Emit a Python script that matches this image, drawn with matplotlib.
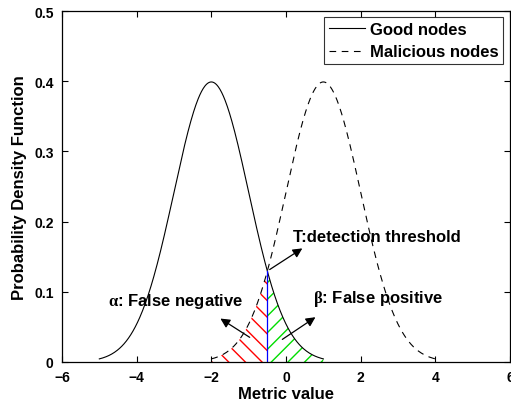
import numpy as np
import matplotlib.pyplot as plt

plt.rcParams['font.family'] = ['Liberation Sans', 'DejaVu Sans']
plt.rcParams['font.weight'] = 'bold'
plt.rcParams['mathtext.fontset'] = 'custom'
plt.rcParams['mathtext.rm'] = 'Liberation Serif'
plt.rcParams['mathtext.it'] = 'Liberation Serif'
plt.rcParams['hatch.linewidth'] = 1.0

# distribution parameters
mu_good, mu_bad, sigma = -2.0, 1.0, 1.0
good_range = [-5.0, 1.0]
bad_range = [-2.0, 4.0]
threshold = -0.5

xticks = [-6, -4, -2, 0, 2, 4, 6]
yticks = [0, 0.1, 0.2, 0.3, 0.4, 0.5]


def pdf(x, mu, s):
    return np.exp(-0.5 * ((x - mu) / s) ** 2) / (s * np.sqrt(2 * np.pi))


xg = np.linspace(good_range[0], good_range[1], 400)
xb = np.linspace(bad_range[0], bad_range[1], 400)

fig = plt.figure(figsize=(5.11, 4.10), dpi=100)
ax = fig.add_axes([62 / 511, 47 / 410, 448 / 511, 351 / 410])

ax.plot(xg, pdf(xg, mu_good, sigma), 'k-', lw=0.8, label='Good nodes')
ax.plot(xb, pdf(xb, mu_bad, sigma), 'k--', lw=0.8, dashes=(6, 5), label='Malicious nodes')

# false negative: malicious below threshold
xr = np.linspace(bad_range[0], threshold, 200)
ax.fill_between(xr, 0, pdf(xr, mu_bad, sigma), facecolor='none', edgecolor='red',
                hatch='\\\\', linewidth=0)
# false positive: good above threshold
xgr = np.linspace(threshold, good_range[1], 200)
ax.fill_between(xgr, 0, pdf(xgr, mu_good, sigma), facecolor='none', edgecolor='#00dd00',
                hatch='//', linewidth=0)

t_y = pdf(threshold, mu_good, sigma)
ax.plot([threshold, threshold], [0, t_y], color='blue', lw=0.9)

arrow = dict(arrowstyle='-|>', color='black', lw=0.9, mutation_scale=14)
ax.annotate('', xy=(0.5, 0.164), xytext=(threshold, t_y), arrowprops=arrow)
ax.text(0.18, 0.179, 'T:detection threshold', fontsize=12, fontweight='bold', va='center')

ax.annotate('', xy=(-1.82, 0.064), xytext=(-0.91, 0.033), arrowprops=arrow)
ax.text(-4.77, 0.087, r'$\mathrm{\alpha}$: False negative', fontsize=12, fontweight='bold',
        va='center')

ax.annotate('', xy=(0.85, 0.066), xytext=(-0.16, 0.030), arrowprops=arrow)
ax.text(0.72, 0.091, r'$\mathrm{\beta}$: False positive', fontsize=12, fontweight='bold',
        va='center')

ax.set_xlim(-6, 6)
ax.set_ylim(0, 0.5)
ax.set_xticks(xticks)
ax.set_yticks(yticks)
ax.set_xticklabels(['\u22126', '\u22124', '\u22122', '0', '2', '4', '6'])
ax.set_yticklabels(['0', '0.1', '0.2', '0.3', '0.4', '0.5'])
ax.tick_params(direction='in', top=True, right=True, labelsize=10, length=4, width=0.8)
ax.tick_params(axis='x', pad=6)
ax.tick_params(axis='y', pad=6)
for s in ax.spines.values():
    s.set_linewidth(0.9)
ax.set_xlabel('Metric value', fontsize=12, fontweight='bold', labelpad=1)
ax.set_ylabel('Probability Density Function', fontsize=12, fontweight='bold', labelpad=5)

leg = ax.legend(loc='upper right', bbox_to_anchor=(0.985, 0.983), fancybox=False,
                edgecolor='black', prop={'size': 12, 'weight': 'bold'},
                handlelength=2.2, handletextpad=0.25, borderpad=0.3, labelspacing=0.45,
                borderaxespad=0)
leg.get_frame().set_linewidth(0.8)

fig.savefig('out.png', dpi=100)
